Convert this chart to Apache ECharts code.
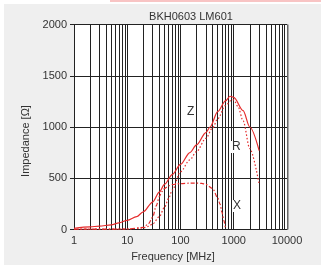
<!DOCTYPE html>
<html>
<head>
<meta charset="utf-8">
<script src="https://cdn.jsdelivr.net/npm/echarts@6/dist/echarts.min.js"></script>
<style>html,body{margin:0;padding:0;background:#fff;}#c{width:321px;height:270px;}</style>
</head>
<body>
<div id="c"></div>
<script>
var title = 'BKH0603 LM601';
var xTicks = [1, 10, 100, 1000, 10000];
var yTicks = [0, 500, 1000, 1500, 2000];
var minorFreqs = [2,3,4,5,6,7,8,9,20,30,40,50,60,70,80,90,200,300,400,500,600,700,800,900,2000,3000,4000,5000,6000,7000,8000,9000];

var zFreq = [1,2,3,5,7,10,15,20,30,40,50,70,100,150,200,300,360,500,700,850,1000,1500,2000,3000];
var zVal  = [12,25,33,45,65,90,125,172,268,365,440,535,635,750,825,945,1000,1150,1255,1300,1290,1160,1000,770];

var rFreq = [1,5,10,20,25,30,40,50,60,70,100,150,200,300,400,500,700,900,1000,1200,1500,2000,3000];
var rVal  = [3,4,5,15,30,54,125,216,304,385,564,680,760,890,990,1080,1210,1260,1265,1200,1060,790,440];

var xFreq = [1,5,10,20,25,30,35,40,45,50,60,70,100,150,200,250,300,400,500,550,600,650,700];
var xVal  = [3,4,5,20,55,120,230,320,370,400,425,438,448,452,452,450,440,400,310,250,170,90,10];

function pairs(f, v){ return f.map(function(x,i){ return [x, v[i]]; }); }

var red = '#e52a2a';
var font = 'Liberation Sans, Arial, sans-serif';
var chart = echarts.init(document.getElementById('c'), null, {renderer:'canvas'});
chart.setOption({
  animation: false,
  backgroundColor: '#ffffff',
  graphic: [
    {type:'rect', shape:{x:4, y:4, width:317, height:261}, style:{fill:'#efefef'}, z:-10},
    {type:'rect', shape:{x:110, y:0, width:211, height:2}, style:{fill:'#f8c4c4'}, z:-10},
    {type:'rect', shape:{x:287.5, y:24.5, width:1.5, height:205}, style:{fill:'#aaaaaa'}, z:10},
    {type:'text', left:186, top:106, style:{text:'Z', fill:'#333', font:'12px '+font, backgroundColor:'#fff', padding:[0,1]}, z:20},
    {type:'text', left:231, top:141, style:{text:'R', fill:'#333', font:'12px '+font, backgroundColor:'#fff', padding:[0,1]}, z:20},
    {type:'text', left:232, top:200, style:{text:'X', fill:'#333', font:'12px '+font, backgroundColor:'#fff', padding:[0,1]}, z:20}
  ],
  title: {
    text: title, left: 186, top: 6, textAlign: 'center',
    textStyle: {fontSize: 11, fontWeight: 'normal', color: '#333', fontFamily: font}
  },
  grid: {left: 74, right: 34, top: 24.5, bottom: 40.5, show: true, backgroundColor: '#fff', borderWidth: 0},
  xAxis: {
    type: 'log', logBase: 10, min: 1, max: 10000,
    axisLine: {show: true, onZero: false, lineStyle: {color: '#222', width: 1}},
    axisTick: {show: false},
    splitLine: {show: true, lineStyle: {color: '#222', width: 1}},
    axisLabel: {fontSize: 11, color: '#333', fontFamily: font, margin: 6,
      formatter: function(v){ return xTicks.indexOf(v) >= 0 ? String(v) : ''; }},
    name: 'Frequency [MHz]', nameLocation: 'middle', nameGap: 19,
    nameTextStyle: {fontSize: 11, color: '#333', fontFamily: font, padding: [0, 15, 0, 0]}
  },
  yAxis: {
    type: 'value', min: 0, max: 2000, interval: 500,
    axisLine: {show: true, lineStyle: {color: '#222', width: 1}},
    axisTick: {show: true, length: 4, lineStyle: {color: '#222'}},
    splitLine: {show: true, lineStyle: {color: '#222', width: 1}},
    axisLabel: {fontSize: 11, color: '#333', fontFamily: font, margin: 7,
      formatter: function(v){ return yTicks.indexOf(v) >= 0 ? String(v) : ''; }},
    name: 'Impedance [Ω]', nameLocation: 'middle', nameGap: 37, nameRotate: 90,
    nameTextStyle: {fontSize: 11, color: '#333', fontFamily: font, padding: [0, 28, 0, 0]}
  },
  series: [
    {
      name: 'Z', type: 'line', data: pairs(zFreq, zVal), showSymbol: false, smooth: 0.3, smoothMonotone: 'x',
      lineStyle: {color: red, width: 1.2, type: 'solid'}, z: 5,
      markLine: {
        silent: true, symbol: 'none', label: {show: false}, animation: false,
        lineStyle: {color: '#222', width: 1, type: 'solid'},
        data: minorFreqs.map(function(f){ return {xAxis: f}; })
      }
    },
    {
      name: 'R', type: 'line', data: pairs(rFreq, rVal), showSymbol: false, smooth: 0.3, smoothMonotone: 'x',
      lineStyle: {color: red, width: 1.2, type: [1.5, 2]}, z: 5
    },
    {
      name: 'X', type: 'line', data: pairs(xFreq, xVal), showSymbol: false, smooth: 0.3, smoothMonotone: 'x',
      lineStyle: {color: red, width: 1.2, type: [4, 2, 1.5, 2]}, z: 5
    }
  ]
});
</script>
</body>
</html>
